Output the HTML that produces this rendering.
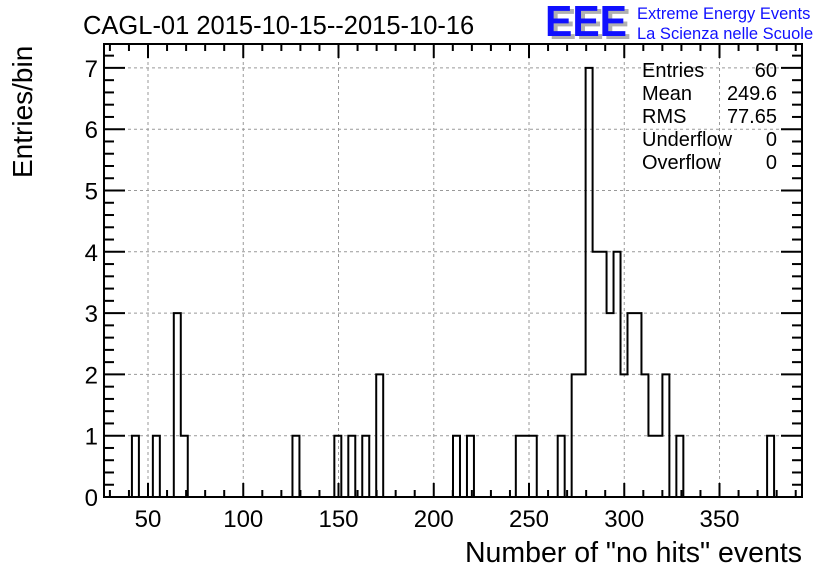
<!DOCTYPE html>
<html><head><meta charset="utf-8"><style>
body{margin:0;background:#fff;}
svg{display:block;font-family:"Liberation Sans",Arial,sans-serif;}
</style></head><body>
<svg id="chart" width="836" height="572" viewBox="0 0 836 572">
<rect width="836" height="572" fill="#fff"/>
<text x="83" y="34" font-size="25.5">CAGL-01 2015-10-15--2015-10-16</text>
<g>
<text x="549" y="39" font-size="44" font-weight="bold" fill="#b0b0b0" textLength="82" lengthAdjust="spacingAndGlyphs">EEE</text>
<text x="545" y="36" font-size="44" font-weight="bold" fill="#1010ff" textLength="82" lengthAdjust="spacingAndGlyphs">EEE</text>
<text x="637" y="19" font-size="16.5" fill="#1010ff">Extreme Energy Events</text>
<text x="637" y="39" font-size="16.5" fill="#1010ff">La Scienza nelle Scuole</text>
</g>
<g id="grid"></g>
<g id="axes"></g>
<path id="hist" fill="none" stroke="#000" stroke-width="2"/>
<g font-size="20">
<text x="642" y="77">Entries</text><text x="777" y="77" text-anchor="end">60</text>
<text x="642" y="100">Mean</text><text x="777" y="100" text-anchor="end">249.6</text>
<text x="642" y="123">RMS</text><text x="777" y="123" text-anchor="end">77.65</text>
<text x="642" y="146">Underflow</text><text x="777" y="146" text-anchor="end">0</text>
<text x="642" y="169">Overflow</text><text x="777" y="169" text-anchor="end">0</text>
</g>
<text x="802" y="562" font-size="28.5" text-anchor="end">Number of "no hits" events</text>
<text transform="translate(32,178) rotate(-90)" font-size="28">Entries/bin</text>
</svg>
<script>
const xMin = 26.9, xMax = 393.3, nBins = 100;
const yMax = 7.39;
const binIndices = [4,7,10,11,27,33,35,37,39,50,52,59,60,61,65,67,68,69,70,71,72,73,74,75,76,77,78,79,80,82,95];
const binCounts  = [1,1,3,1,1,1,1,1,2,1,1,1,1,1,1,2,2,7,4,4,3,4,2,3,3,2,1,1,2,1,1];
const xTicks = [50,100,150,200,250,300,350];
const yTicks = [0,1,2,3,4,5,6,7];
const L=104,R=802,T=44,B=497;
const NS="http://www.w3.org/2000/svg";
const sx=v=>L+(v-xMin)/(xMax-xMin)*(R-L);
const sy=v=>B-v/yMax*(B-T);
function mk(tag,attrs,parent){const e=document.createElementNS(NS,tag);for(const k in attrs)e.setAttribute(k,attrs[k]);parent.appendChild(e);return e;}
const grid=document.getElementById('grid'), axes=document.getElementById('axes');
xTicks.forEach(t=>{const l=mk('line',{x1:sx(t),x2:sx(t),y1:T,y2:B,stroke:'#999','stroke-dasharray':'3,3','stroke-width':1},grid);

});
yTicks.forEach(t=>{if(t===0)return;const l=mk('line',{x1:L,x2:R,y1:sy(t),y2:sy(t),stroke:'#999','stroke-dasharray':'3,3','stroke-width':1},grid);

});
const counts=new Array(nBins).fill(0);
binIndices.forEach((b,i)=>counts[b]=binCounts[i]);
const bw=(xMax-xMin)/nBins;
let d=`M${L},${B}`;
for(let i=0;i<nBins;i++){const x0=sx(xMin+i*bw),x1=sx(xMin+(i+1)*bw),y=sy(counts[i]);d+=` L${x0},${y} L${x1},${y}`;}
d+=` L${R},${B}`;
document.getElementById('hist').setAttribute('d',d);
const fr=mk('rect',{x:L,y:T,width:R-L,height:B-T,fill:'none',stroke:'#000','stroke-width':2},axes);


for(let v=30;v<=390;v+=10){const maj=v%50===0;const len=maj?14:7;
mk('line',{x1:sx(v),x2:sx(v),y1:B,y2:B-len,stroke:'#000','stroke-width':2},axes);
mk('line',{x1:sx(v),x2:sx(v),y1:T,y2:T+len,stroke:'#000','stroke-width':2},axes);}
xTicks.forEach(t=>{const e=mk('text',{x:sx(t),y:527,'font-size':24,'text-anchor':'middle'},axes);e.textContent=t;

});
for(let k=0;k<=40;k++){const v=k/5;if(v>yMax)break;const maj=k%5===0;const len=maj?21:10;
mk('line',{x1:L,x2:L+len,y1:sy(v),y2:sy(v),stroke:'#000','stroke-width':2},axes);
mk('line',{x1:R,x2:R-len,y1:sy(v),y2:sy(v),stroke:'#000','stroke-width':2},axes);}
yTicks.forEach(t=>{const e=mk('text',{x:98,y:sy(t)+9,'font-size':24,'text-anchor':'end'},axes);e.textContent=t;

});
</script>
</body></html>
